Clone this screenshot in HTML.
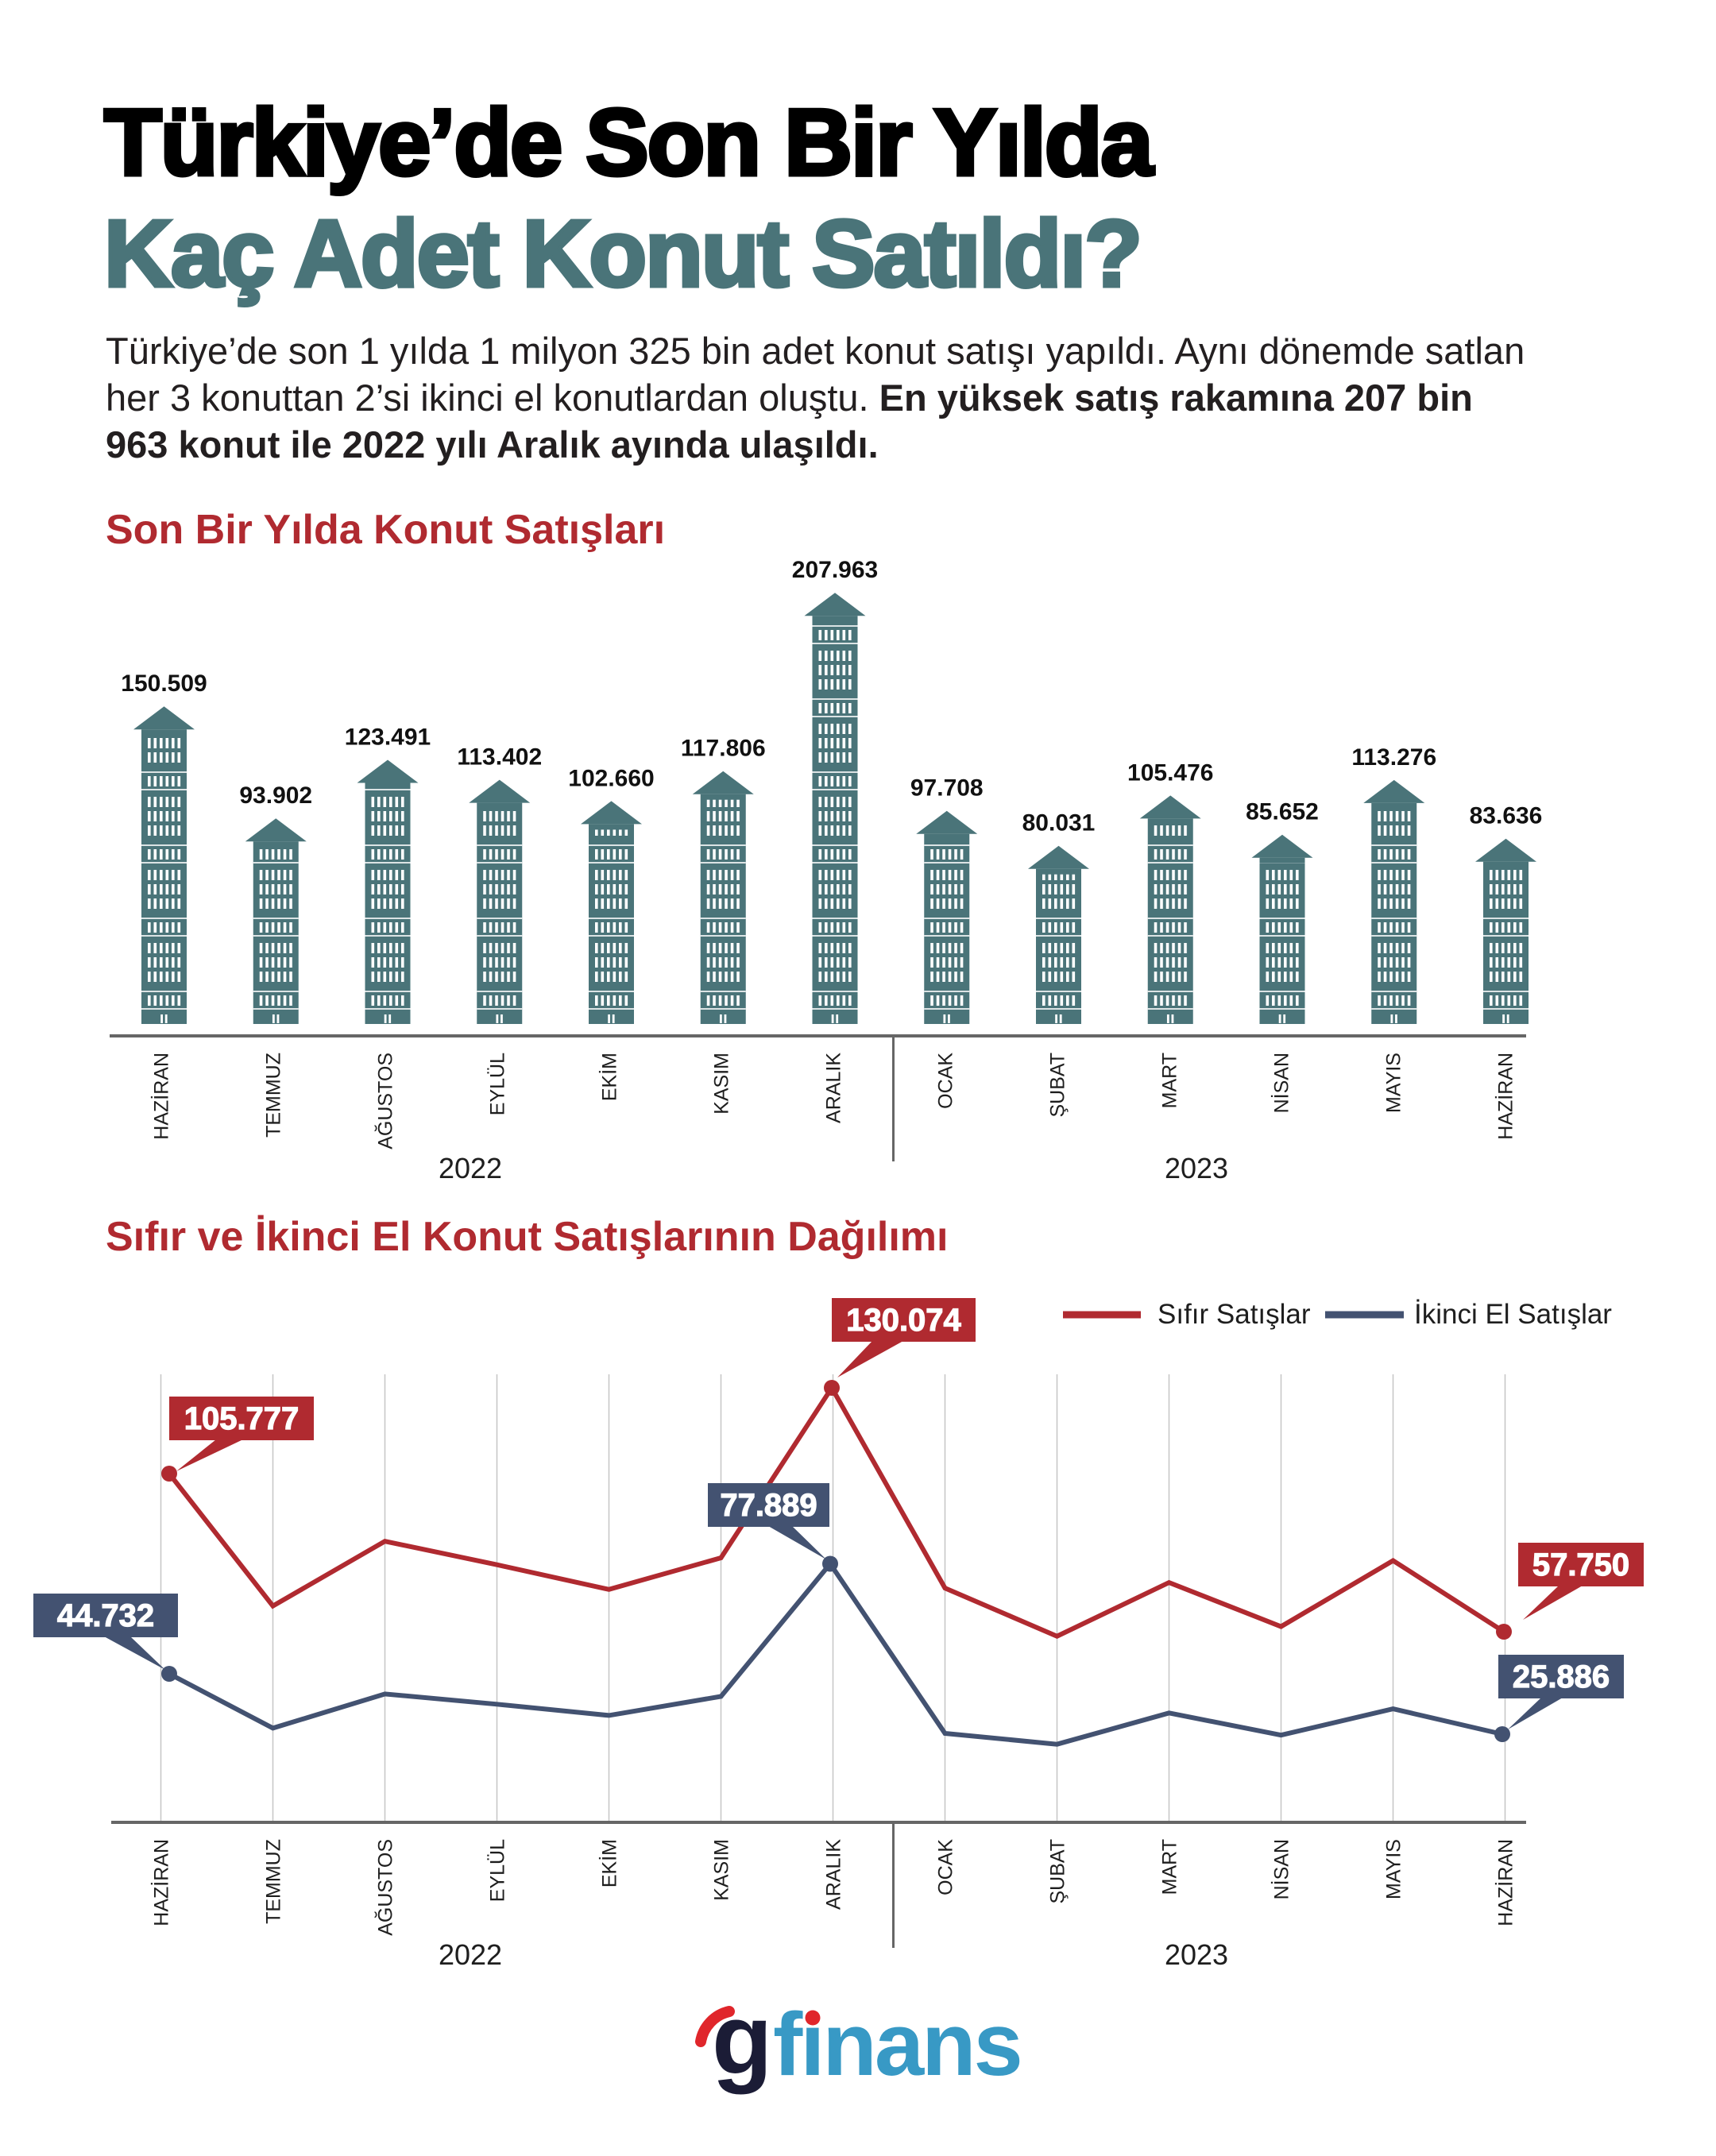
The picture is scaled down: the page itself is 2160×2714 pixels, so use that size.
<!DOCTYPE html>
<html>
<head>
<meta charset="utf-8">
<style>
html,body{margin:0;padding:0;background:#fff;}
svg{display:block;}
text{font-family:"Liberation Sans",sans-serif;}
</style>
</head>
<body>
<svg width="2160" height="2714" viewBox="0 0 2160 2714" xmlns="http://www.w3.org/2000/svg">
<defs>
  <g id="row" fill="#fff">
    <rect x="8" y="0" width="3.6" height="13"/>
    <rect x="15.5" y="0" width="3.6" height="13"/>
    <rect x="23" y="0" width="3.6" height="13"/>
    <rect x="30.5" y="0" width="3.6" height="13"/>
    <rect x="38" y="0" width="3.6" height="13"/>
    <rect x="45.5" y="0" width="3.6" height="13"/>
  </g>
  <pattern id="win" patternUnits="userSpaceOnUse" x="-28.5" y="-17" width="57" height="92">
    <rect x="0" y="90" width="57" height="2" fill="#fff" opacity="0.8"/>
    <rect x="0" y="68" width="57" height="2" fill="#fff" opacity="0.8"/>
    <use href="#row" y="8"/>
    <use href="#row" y="26"/>
    <use href="#row" y="44"/>
    <use href="#row" y="74"/>
  </pattern>
</defs>

<rect width="2160" height="2714" fill="#fff"/>

<!-- Title -->
<text x="131" y="220" font-size="119" font-weight="bold" letter-spacing="-2" fill="#000" stroke="#000" stroke-width="5">Türkiye’de Son Bir Yılda</text>
<text x="131" y="360" font-size="119" font-weight="bold" letter-spacing="-2" fill="#4a7479" stroke="#4a7479" stroke-width="5">Kaç Adet Konut Satıldı?</text>

<!-- Paragraph -->
<g font-size="47" fill="#231f20">
<text x="133" y="458">Türkiye’de son 1 yılda 1 milyon 325 bin adet konut satışı yapıldı. Aynı dönemde satlan</text>
<text x="133" y="517">her 3 konuttan 2’si ikinci el konutlardan oluştu. <tspan font-weight="bold">En yüksek satış rakamına 207 bin</tspan></text>
<text x="133" y="576" font-weight="bold">963 konut ile 2022 yılı Aralık ayında ulaşıldı.</text>
</g>

<!-- Section 1 title -->
<text x="133" y="684" font-size="52" font-weight="bold" fill="#b02a30">Son Bir Yılda Konut Satışları</text>

<!-- Buildings -->
<g fill="#4a7479">
<g transform="translate(206.5,0)"><polygon points="0,889.2 -38.5,918.2 38.5,918.2"/><rect x="-28.5" y="918.2" width="57" height="370.8"/><rect x="-28.5" y="925.2" width="57" height="345.8" fill="url(#win)"/><rect x="-4.3" y="1277" width="2.8" height="11" fill="#fff"/><rect x="1.3" y="1277" width="2.8" height="11" fill="#fff"/></g>
<g transform="translate(347.25,0)"><polygon points="0,1030.2 -38.5,1059.2 38.5,1059.2"/><rect x="-28.5" y="1059.2" width="57" height="229.8"/><rect x="-28.5" y="1066.2" width="57" height="204.8" fill="url(#win)"/><rect x="-4.3" y="1277" width="2.8" height="11" fill="#fff"/><rect x="1.3" y="1277" width="2.8" height="11" fill="#fff"/></g>
<g transform="translate(488,0)"><polygon points="0,956.5 -38.5,985.5 38.5,985.5"/><rect x="-28.5" y="985.5" width="57" height="303.5"/><rect x="-28.5" y="992.5" width="57" height="278.5" fill="url(#win)"/><rect x="-4.3" y="1277" width="2.8" height="11" fill="#fff"/><rect x="1.3" y="1277" width="2.8" height="11" fill="#fff"/></g>
<g transform="translate(628.75,0)"><polygon points="0,981.6 -38.5,1010.6 38.5,1010.6"/><rect x="-28.5" y="1010.6" width="57" height="278.4"/><rect x="-28.5" y="1017.6" width="57" height="253.4" fill="url(#win)"/><rect x="-4.3" y="1277" width="2.8" height="11" fill="#fff"/><rect x="1.3" y="1277" width="2.8" height="11" fill="#fff"/></g>
<g transform="translate(769.5,0)"><polygon points="0,1008.4 -38.5,1037.4 38.5,1037.4"/><rect x="-28.5" y="1037.4" width="57" height="251.6"/><rect x="-28.5" y="1044.4" width="57" height="226.6" fill="url(#win)"/><rect x="-4.3" y="1277" width="2.8" height="11" fill="#fff"/><rect x="1.3" y="1277" width="2.8" height="11" fill="#fff"/></g>
<g transform="translate(910.25,0)"><polygon points="0,970.7 -38.5,999.7 38.5,999.7"/><rect x="-28.5" y="999.7" width="57" height="289.3"/><rect x="-28.5" y="1006.7" width="57" height="264.3" fill="url(#win)"/><rect x="-4.3" y="1277" width="2.8" height="11" fill="#fff"/><rect x="1.3" y="1277" width="2.8" height="11" fill="#fff"/></g>
<g transform="translate(1051,0)"><polygon points="0,746.2 -38.5,775.2 38.5,775.2"/><rect x="-28.5" y="775.2" width="57" height="513.8"/><rect x="-28.5" y="782.2" width="57" height="488.8" fill="url(#win)"/><rect x="-4.3" y="1277" width="2.8" height="11" fill="#fff"/><rect x="1.3" y="1277" width="2.8" height="11" fill="#fff"/></g>
<g transform="translate(1191.75,0)"><polygon points="0,1020.7 -38.5,1049.7 38.5,1049.7"/><rect x="-28.5" y="1049.7" width="57" height="239.3"/><rect x="-28.5" y="1056.7" width="57" height="214.3" fill="url(#win)"/><rect x="-4.3" y="1277" width="2.8" height="11" fill="#fff"/><rect x="1.3" y="1277" width="2.8" height="11" fill="#fff"/></g>
<g transform="translate(1332.5,0)"><polygon points="0,1064.7 -38.5,1093.7 38.5,1093.7"/><rect x="-28.5" y="1093.7" width="57" height="195.3"/><rect x="-28.5" y="1100.7" width="57" height="170.3" fill="url(#win)"/><rect x="-4.3" y="1277" width="2.8" height="11" fill="#fff"/><rect x="1.3" y="1277" width="2.8" height="11" fill="#fff"/></g>
<g transform="translate(1473.25,0)"><polygon points="0,1001.4 -38.5,1030.4 38.5,1030.4"/><rect x="-28.5" y="1030.4" width="57" height="258.6"/><rect x="-28.5" y="1037.4" width="57" height="233.6" fill="url(#win)"/><rect x="-4.3" y="1277" width="2.8" height="11" fill="#fff"/><rect x="1.3" y="1277" width="2.8" height="11" fill="#fff"/></g>
<g transform="translate(1614,0)"><polygon points="0,1050.7 -38.5,1079.7 38.5,1079.7"/><rect x="-28.5" y="1079.7" width="57" height="209.3"/><rect x="-28.5" y="1086.7" width="57" height="184.3" fill="url(#win)"/><rect x="-4.3" y="1277" width="2.8" height="11" fill="#fff"/><rect x="1.3" y="1277" width="2.8" height="11" fill="#fff"/></g>
<g transform="translate(1754.75,0)"><polygon points="0,981.9 -38.5,1010.9 38.5,1010.9"/><rect x="-28.5" y="1010.9" width="57" height="278.1"/><rect x="-28.5" y="1017.9" width="57" height="253.1" fill="url(#win)"/><rect x="-4.3" y="1277" width="2.8" height="11" fill="#fff"/><rect x="1.3" y="1277" width="2.8" height="11" fill="#fff"/></g>
<g transform="translate(1895.5,0)"><polygon points="0,1055.7 -38.5,1084.7 38.5,1084.7"/><rect x="-28.5" y="1084.7" width="57" height="204.3"/><rect x="-28.5" y="1091.7" width="57" height="179.3" fill="url(#win)"/><rect x="-4.3" y="1277" width="2.8" height="11" fill="#fff"/><rect x="1.3" y="1277" width="2.8" height="11" fill="#fff"/></g>
</g>

<!-- Bar value labels -->
<g font-size="30" font-weight="bold" fill="#111" text-anchor="middle">
<text x="206.5" y="870">150.509</text>
<text x="347.25" y="1011">93.902</text>
<text x="488" y="937.5">123.491</text>
<text x="628.75" y="962.6">113.402</text>
<text x="769.5" y="989.4">102.660</text>
<text x="910.25" y="951.7">117.806</text>
<text x="1051" y="727">207.963</text>
<text x="1191.75" y="1001.7">97.708</text>
<text x="1332.5" y="1045.7">80.031</text>
<text x="1473.25" y="982.4">105.476</text>
<text x="1614" y="1031.7">85.652</text>
<text x="1754.75" y="962.9">113.276</text>
<text x="1895.5" y="1036.7">83.636</text>
</g>

<!-- Bar chart axis -->
<line x1="138" y1="1304" x2="1921" y2="1304" stroke="#666" stroke-width="4"/>
<line x1="1124.5" y1="1306" x2="1124.5" y2="1462" stroke="#666" stroke-width="3"/>

<!-- Bar chart month labels -->
<g font-size="25" fill="#1e1e1e" text-anchor="end">
<text transform="translate(211.5,1325) rotate(-90)">HAZİRAN</text>
<text transform="translate(352.5,1325) rotate(-90)">TEMMUZ</text>
<text transform="translate(493.5,1325) rotate(-90)">AĞUSTOS</text>
<text transform="translate(634.5,1325) rotate(-90)">EYLÜL</text>
<text transform="translate(775.5,1325) rotate(-90)">EKİM</text>
<text transform="translate(916.5,1325) rotate(-90)">KASIM</text>
<text transform="translate(1057.5,1325) rotate(-90)">ARALIK</text>
<text transform="translate(1198.5,1325) rotate(-90)">OCAK</text>
<text transform="translate(1339.5,1325) rotate(-90)">ŞUBAT</text>
<text transform="translate(1480.5,1325) rotate(-90)">MART</text>
<text transform="translate(1621.5,1325) rotate(-90)">NİSAN</text>
<text transform="translate(1762.5,1325) rotate(-90)">MAYIS</text>
<text transform="translate(1903.5,1325) rotate(-90)">HAZİRAN</text>
</g>
<g font-size="36" fill="#1e1e1e" text-anchor="middle">
<text x="592" y="1483">2022</text>
<text x="1506" y="1483">2023</text>
</g>

<!-- Section 2 title -->
<text x="133" y="1574" font-size="52" font-weight="bold" fill="#b02a30">Sıfır ve İkinci El Konut Satışlarının Dağılımı</text>

<!-- Legend -->
<line x1="1338" y1="1655" x2="1436" y2="1655" stroke="#b02a30" stroke-width="9"/>
<text x="1457" y="1666" font-size="35" fill="#1e1e1e">Sıfır Satışlar</text>
<line x1="1668" y1="1655" x2="1767" y2="1655" stroke="#435271" stroke-width="9"/>
<text x="1780" y="1666" font-size="35" fill="#1e1e1e">İkinci El Satışlar</text>

<!-- Gridlines -->
<g stroke="#c6c6c6" stroke-width="1.5">
<line x1="202.5" y1="1730" x2="202.5" y2="2294"/>
<line x1="343.5" y1="1730" x2="343.5" y2="2294"/>
<line x1="484.5" y1="1730" x2="484.5" y2="2294"/>
<line x1="625.5" y1="1730" x2="625.5" y2="2294"/>
<line x1="766.5" y1="1730" x2="766.5" y2="2294"/>
<line x1="907.5" y1="1730" x2="907.5" y2="2294"/>
<line x1="1048.5" y1="1730" x2="1048.5" y2="2294"/>
<line x1="1189.5" y1="1730" x2="1189.5" y2="2294"/>
<line x1="1330.5" y1="1730" x2="1330.5" y2="2294"/>
<line x1="1471.5" y1="1730" x2="1471.5" y2="2294"/>
<line x1="1612.5" y1="1730" x2="1612.5" y2="2294"/>
<line x1="1753.5" y1="1730" x2="1753.5" y2="2294"/>
<line x1="1894.5" y1="1730" x2="1894.5" y2="2294"/>
</g>

<!-- Axis -->
<line x1="140" y1="2294" x2="1921" y2="2294" stroke="#666" stroke-width="4"/>
<line x1="1124.5" y1="2296" x2="1124.5" y2="2452" stroke="#666" stroke-width="3"/>

<!-- Series -->
<polyline fill="none" stroke="#b02a30" stroke-width="6" stroke-linejoin="miter" points="213,1855 343.5,2021.6 484.5,1940.2 625.5,1969.7 766.5,2000.8 907.5,1961 1047,1747 1189.5,1999.1 1330.5,2059.7 1471.5,1992.1 1612.5,2047.5 1753.5,1964.5 1893,2054"/>
<polyline fill="none" stroke="#435271" stroke-width="6" stroke-linejoin="miter" points="213,2107 343.5,2175.4 484.5,2132.4 625.5,2145.3 766.5,2159.4 907.5,2135.5 1045,1968.5 1189.5,2182 1330.5,2195.7 1471.5,2156.3 1612.5,2184.2 1753.5,2151.1 1891,2183"/>
<g fill="#b02a30">
<circle cx="213" cy="1855" r="10"/>
<circle cx="1047" cy="1747" r="10"/>
<circle cx="1893" cy="2054" r="10"/>
</g>
<g fill="#435271">
<circle cx="213" cy="2107" r="10"/>
<circle cx="1045" cy="1968.5" r="10"/>
<circle cx="1891" cy="2183" r="10"/>
</g>

<!-- Annotation boxes -->
<g fill="#b02a30">
<rect x="213" y="1758" width="182" height="55"/>
<polygon points="272,1812 306,1812 222,1852"/>
<rect x="1047" y="1634" width="181" height="55"/>
<polygon points="1098,1688 1137,1688 1054,1734"/>
<rect x="1911" y="1942" width="158" height="55"/>
<polygon points="1962,1996 1992,1996 1917,2039"/>
</g>
<g fill="#435271">
<rect x="42" y="2006" width="182" height="55"/>
<polygon points="131,2060 164,2060 208,2102"/>
<rect x="891" y="1867" width="153" height="55"/>
<polygon points="967,1921 997,1921 1040,1963"/>
<rect x="1886" y="2083" width="158" height="55"/>
<polygon points="1940,2137 1967,2137 1898,2177"/>
</g>
<g font-size="40" font-weight="bold" fill="#fff" stroke="#fff" stroke-width="1.2" text-anchor="middle">
<text x="304" y="1799">105.777</text>
<text x="1137.5" y="1675">130.074</text>
<text x="1990" y="1983">57.750</text>
<text x="133" y="2047">44.732</text>
<text x="967.5" y="1908">77.889</text>
<text x="1965" y="2124">25.886</text>
</g>

<!-- Line chart month labels -->
<g font-size="25" fill="#1e1e1e" text-anchor="end">
<text transform="translate(211.5,2315) rotate(-90)">HAZİRAN</text>
<text transform="translate(352.5,2315) rotate(-90)">TEMMUZ</text>
<text transform="translate(493.5,2315) rotate(-90)">AĞUSTOS</text>
<text transform="translate(634.5,2315) rotate(-90)">EYLÜL</text>
<text transform="translate(775.5,2315) rotate(-90)">EKİM</text>
<text transform="translate(916.5,2315) rotate(-90)">KASIM</text>
<text transform="translate(1057.5,2315) rotate(-90)">ARALIK</text>
<text transform="translate(1198.5,2315) rotate(-90)">OCAK</text>
<text transform="translate(1339.5,2315) rotate(-90)">ŞUBAT</text>
<text transform="translate(1480.5,2315) rotate(-90)">MART</text>
<text transform="translate(1621.5,2315) rotate(-90)">NİSAN</text>
<text transform="translate(1762.5,2315) rotate(-90)">MAYIS</text>
<text transform="translate(1903.5,2315) rotate(-90)">HAZİRAN</text>
</g>
<g font-size="36" fill="#1e1e1e" text-anchor="middle">
<text x="592" y="2473">2022</text>
<text x="1506" y="2473">2023</text>
</g>

<!-- Logo -->
<path d="M 882 2570 A 47 47 0 0 1 918 2532" fill="none" stroke="#e0262b" stroke-width="14" stroke-linecap="round"/>
<text x="896" y="2610" font-size="125" font-weight="bold" fill="#1b1c36">g</text>
<text x="973" y="2612" font-size="112" font-weight="bold" letter-spacing="-3" fill="#3899c5">fınans</text>
<circle cx="1023" cy="2540" r="9.5" fill="#e0262b"/>
</svg>
</body>
</html>
